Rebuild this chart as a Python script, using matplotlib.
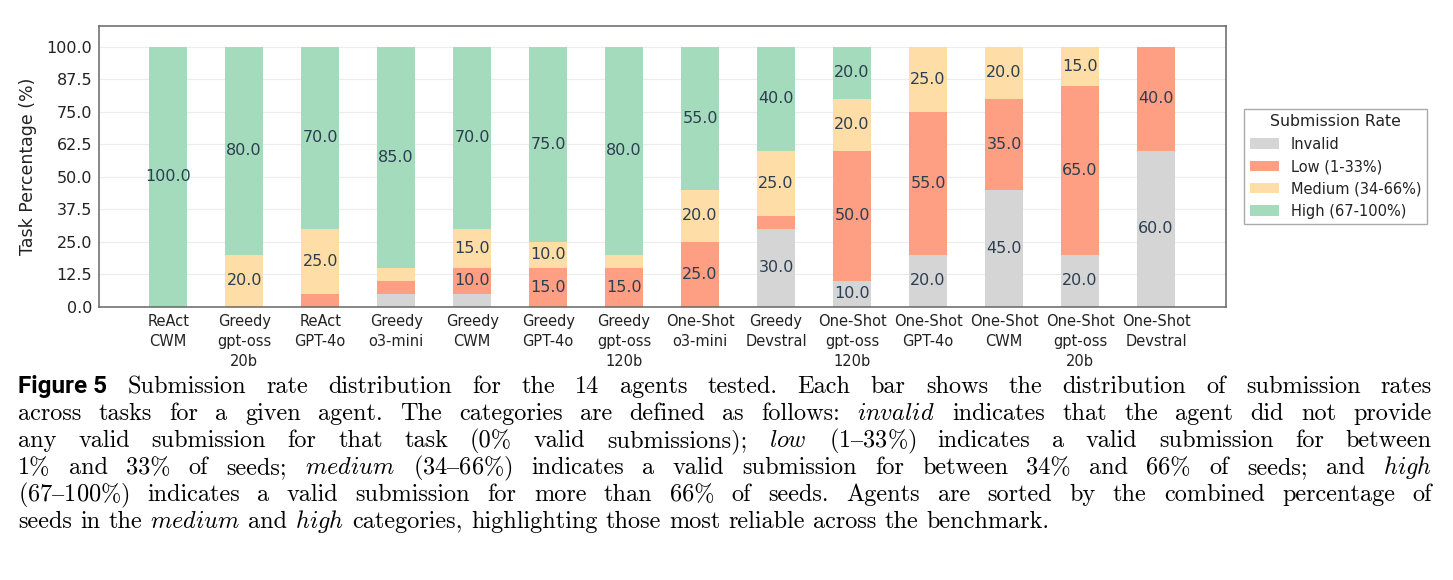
import numpy as np
import matplotlib.pyplot as plt

plt.rcParams['mathtext.fontset'] = 'cm'

# agents, sorted as in the figure
agents = ["ReAct\nCWM", "Greedy\ngpt-oss\n20b", "ReAct\nGPT-4o", "Greedy\no3-mini",
          "Greedy\nCWM", "Greedy\nGPT-4o", "Greedy\ngpt-oss\n120b", "One-Shot\no3-mini",
          "Greedy\nDevstral", "One-Shot\ngpt-oss\n120b", "One-Shot\nGPT-4o",
          "One-Shot\nCWM", "One-Shot\ngpt-oss\n20b", "One-Shot\nDevstral"]

# task percentages per submission-rate bucket
invalid = [0, 0, 0, 5, 5, 0, 0, 0, 30, 10, 20, 45, 20, 60]
low = [0, 0, 5, 5, 10, 15, 15, 25, 5, 50, 55, 35, 65, 40]
medium = [0, 20, 25, 5, 15, 10, 5, 20, 25, 20, 25, 20, 15, 0]
high = [100, 80, 70, 85, 70, 75, 80, 55, 40, 20, 0, 0, 0, 0]

categories = ["Invalid", "Low (1-33%)", "Medium (34-66%)", "High (67-100%)"]
colors = ["#d5d5d5", "#fe9e82", "#fedea6", "#a4dbbd"]

W, H = 1453, 580
fig = plt.figure(figsize=(W / 100, H / 100), dpi=100)
ax = fig.add_axes([99 / W, 1 - 307 / H, (1226 - 99) / W, (307 - 26) / H])

x = np.arange(len(agents))
bottom = np.zeros(len(agents))
for name, vals, c in zip(categories, [invalid, low, medium, high], colors):
    vals = np.array(vals, dtype=float)
    ax.bar(x, vals, 0.5, bottom=bottom, color=c, label=name, linewidth=0, zorder=2)
    for xi, v, b in zip(x, vals, bottom):
        if v >= 10:
            ax.text(xi, b + v / 2, f"{v:.1f}", ha='center', va='center',
                    fontsize=11.5, color='#2c3e50', zorder=3)
    bottom += vals

ax.set_xlim(-0.91, 13.92)
ax.set_ylim(0, 108)
yt = np.arange(0, 100.1, 12.5)
ax.set_yticks(yt)
ax.set_yticklabels([f"{v:.1f}" for v in yt], fontsize=11.5, color='#222222')
ax.set_xticks(x)
ax.set_xticklabels(agents, fontsize=10.5, color='#222222', linespacing=1.4, va='top')
ax.tick_params(length=0, pad=5)
ax.yaxis.grid(True, color='#ececec', linewidth=0.8)
ax.set_axisbelow(True)
for s in ax.spines.values():
    s.set_color('#666666')
    s.set_linewidth(1.1)
ax.set_ylabel("Task Percentage (%)", fontsize=12.5, color='#222222', labelpad=7)

leg = ax.legend(title="Submission Rate", loc='center left', bbox_to_anchor=(1.016, 0.5),
                fontsize=10.5, title_fontsize=11.3, fancybox=False, edgecolor='#aaaaaa',
                borderaxespad=0, framealpha=1)
for t in leg.get_texts():
    t.set_color('#222222')
leg.get_title().set_color('#222222')

# caption, justified word by word
caption_lines = [
    [("Figure 5", "bold"), ("Submission rate distribution for the 14 agents tested. Each bar shows the distribution of submission rates", "rm")],
    [("across tasks for a given agent. The categories are defined as follows:", "rm"), ("invalid", "it"),
     ("indicates that the agent did not provide", "rm")],
    [("any valid submission for that task (0% valid submissions);", "rm"), ("low (1–33%)", "it"),
     ("indicates a valid submission for between", "rm")],
    [("1% and 33% of seeds;", "rm"), ("medium (34–66%)", "it"),
     ("indicates a valid submission for between 34% and 66% of seeds; and", "rm"), ("high", "it")],
    [("(67–100%)", "it"), ("indicates a valid submission for more than 66% of seeds. Agents are sorted by the combined percentage of", "rm")],
    [("seeds in the", "rm"), ("medium", "it"), ("and", "rm"), ("high", "it"),
     ("categories, highlighting those most reliable across the benchmark.", "rm")],
]
baselines = [393, 420, 447, 474, 501, 528]
cap_size = 17.5
cap_left, cap_right = 18, 1432

renderer = fig.canvas.get_renderer()
for i, (line, yb) in enumerate(zip(caption_lines, baselines)):
    words = []
    for frag, kind in line:
        if kind == "bold":
            words.append((frag, kind))
        else:
            words.extend((w, kind) for w in frag.split())
    texts = []
    for w, kind in words:
        y = 1 - yb / H
        if kind == "bold":
            t = fig.text(0, y, w, family='Roboto', weight='bold', fontsize=17.5, va='baseline')
        elif kind == "it":
            t = fig.text(0, y, r"$\mathit{" + w.replace('%', r'\%') + "}$",
                         fontsize=cap_size, va='baseline')
        else:
            t = fig.text(0, y, w, family='cmr10', fontsize=cap_size, va='baseline')
        texts.append(t)
    widths = [t.get_window_extent(renderer).width for t in texts]
    if i < len(caption_lines) - 1:
        gap = (cap_right - cap_left - sum(widths)) / (len(texts) - 1)
    else:
        gap = cap_size * 100 / 72 * 0.333
    xp = cap_left
    for t, w in zip(texts, widths):
        t.set_x(xp / W)
        xp += w + gap

fig.savefig("out.png", dpi=100)
